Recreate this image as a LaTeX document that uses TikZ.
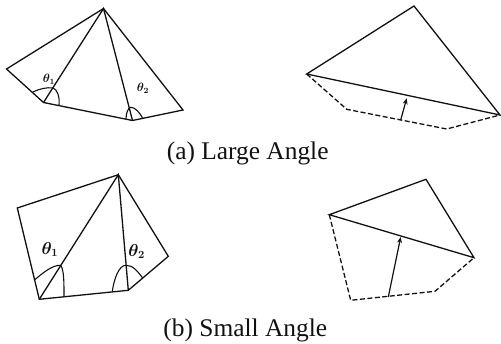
\documentclass[tikz,border=0pt]{standalone}
\usepackage{fontspec}
\setmainfont{Liberation Serif}
\usepackage{amsmath,amssymb}
\usetikzlibrary{arrows.meta}
\definecolor{inkline}{HTML}{111111}
\tikzset{
  edge/.style={draw=inkline,line width=1.3pt},
  hulledge/.style={draw=inkline,line width=1.3pt,dash pattern=on 5pt off 2.5pt},
  push/.style={draw=inkline,line width=1.2pt,-{Stealth[length=6pt,width=5pt]}},
  anglemark/.style={draw=inkline,line width=1.1pt},
  caption/.style={font=\fontsize{25.4}{28}\selectfont,text=inkline,inner sep=0pt,anchor=base},
  anglelabel/.style={font=\fontsize{12}{14}\selectfont,text=inkline,inner sep=0pt},
}
\begin{document}
\begin{tikzpicture}[x=1pt,y=-1pt]
      \useasboundingbox (0,0) rectangle (501,344);
      % Large angle, triangulated
      \coordinate (la) at (103.5,8.5);
      \coordinate (lb) at (6.5,69);
      \coordinate (lc) at (43.5,102.5);
      \coordinate (ld) at (132.5,120.5);
      \coordinate (le) at (183,110);
      \draw[edge] (la) -- (lb) -- (lc) -- (ld) -- (le) -- cycle;
      \draw[edge] (lc) -- (la) -- (ld);
      \coordinate (lm1a) at (33,92);
      \coordinate (lm1b) at (53,88);
      \coordinate (lm1c) at (59,105);
      \draw[anglemark] (lm1a) .. controls (39,89) and (47,87) .. (lm1b) .. controls (57,89) and (60,97) .. (lm1c);
      \coordinate (lm2a) at (126,119.5);
      \coordinate (lm2b) at (130.7,107.3);
      \coordinate (lm2c) at (142.7,118.3);
      \draw[anglemark] (lm2a) .. controls (126,113) and (128,108) .. (lm2b) .. controls (135,107) and (140,113) .. (lm2c);
      \node[anglelabel] (ltheta1) at (49,79) {$\boldsymbol{\theta_1}$};
      \node[anglelabel] (ltheta2) at (143,88) {$\boldsymbol{\theta_2}$};
      % Large angle, after the flip
      \coordinate (ra) at (414,6);
      \coordinate (rb) at (306.7,74);
      \coordinate (rc) at (346.7,109.3);
      \coordinate (rd) at (446.7,129);
      \coordinate (re) at (500,115);
      \coordinate (rfoot) at (400.7,120);
      \coordinate (rtip) at (406.7,98.3);
      \draw[edge] (rb) -- (ra) -- (re) -- cycle;
      \draw[hulledge] (rb) -- (rc) -- (rd) -- (re);
      \draw[push] (rfoot) -- (rtip);
      \node[caption] (capa) at (247.7,160) {(a) Large Angle};
      % Small angle, triangulated
      \coordinate (sa) at (118.3,174.7);
      \coordinate (sb) at (17.3,208);
      \coordinate (sc) at (39.3,299.3);
      \coordinate (sd) at (128.3,290.3);
      \coordinate (se) at (168.3,256.3);
      \draw[edge] (sa) -- (sb) -- (sc) -- (sd) -- (se) -- cycle;
      \draw[edge] (sc) -- (sa) -- (sd);
      \coordinate (sm1a) at (34,280.3);
      \coordinate (sm1b) at (60.7,265.3);
      \coordinate (sm1c) at (64,296);
      \draw[anglemark] (sm1a) .. controls (43,273) and (52,265) .. (sm1b) .. controls (64,270) and (64,282) .. (sm1c);
      \coordinate (sm2a) at (112.3,291.3);
      \coordinate (sm2b) at (126,265.3);
      \coordinate (sm2c) at (142.7,278);
      \draw[anglemark] (sm2a) .. controls (114,279) and (119,265) .. (sm2b) .. controls (133,265) and (138,272) .. (sm2c);
      \node[anglelabel,font=\fontsize{16}{18}\selectfont] (stheta1) at (50,249.3) {$\boldsymbol{\theta_1}$};
      \node[anglelabel,font=\fontsize{16}{18}\selectfont] (stheta2) at (136.7,251.3) {$\boldsymbol{\theta_2}$};
      % Small angle, after the flip
      \coordinate (ta) at (426,179.3);
      \coordinate (tb) at (329.3,214.7);
      \coordinate (tc) at (350.7,300.3);
      \coordinate (td) at (435,291.3);
      \coordinate (te) at (474,257.7);
      \coordinate (tfoot) at (388.3,297);
      \coordinate (ttip) at (400.7,237);
      \draw[edge] (tb) -- (ta) -- (te) -- cycle;
      \draw[hulledge] (tb) -- (tc) -- (td) -- (te);
      \draw[push] (tfoot) -- (ttip);
      \node[caption] (capb) at (245.3,336.3) {(b) Small Angle};
    \end{tikzpicture}
\end{document}
